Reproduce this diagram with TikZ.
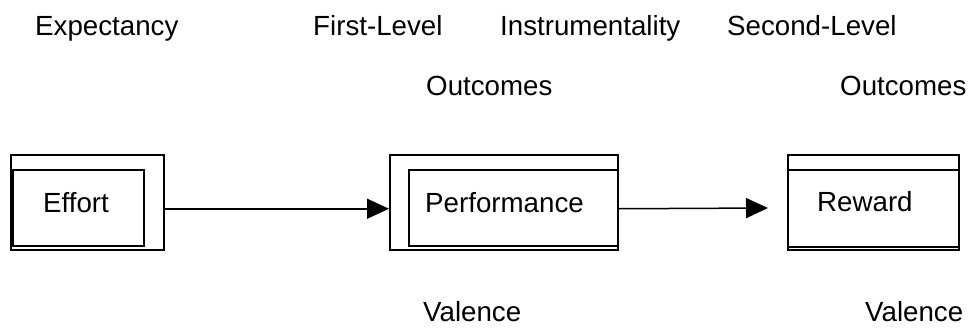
\documentclass[tikz,border=0pt]{standalone}
\usepackage{fontspec}
\setmainfont{Liberation Sans}
\usetikzlibrary{arrows.meta}
\begin{document}
\begin{tikzpicture}[x=1pt,y=-1pt,
  boxframe/.style={draw, line width=1.5pt, inner sep=0pt, anchor=north west},
  lbl/.style={inner sep=0pt, anchor=base west, font=\fontsize{27.7}{33}\selectfont},
  flow/.style={line width=1.5pt, -{Triangle[length=22pt,width=20pt]}}]
\useasboundingbox (0,0) rectangle (968,329);
% boxes
\node[boxframe, minimum width=153pt, minimum height=95pt] (eo) at (10,154) {};
\node[boxframe, minimum width=131pt, minimum height=76pt] (ei) at (12,169) {};
\node[boxframe, minimum width=228pt, minimum height=95pt] (po) at (389,154) {};
\node[boxframe, minimum width=209pt, minimum height=76pt] (pi) at (408,169) {};
\node[boxframe, minimum width=171pt, minimum height=95pt] (ro) at (787,154) {};
\node[boxframe, minimum width=171pt, minimum height=77pt] (ri) at (787,169) {};
% box texts
\node[lbl] (teffort) at (43,212) {Effort};
\node[lbl] (tperf) at (425,212) {Performance};
\node[lbl] (treward) at (817,211) {Reward};
% headings
\node[lbl] (hexp) at (35,36) {Expectancy};
\node[lbl] (hfirst) at (313,36) {First-Level};
\node[lbl] (hinst) at (500,36) {Instrumentality};
\node[lbl] (hsecond) at (727,36) {Second-Level};
\node[lbl] (hout1) at (426,95) {Outcomes};
\node[lbl] (hout2) at (840,95) {Outcomes};
\node[lbl] (val1) at (423,321) {Valence};
\node[lbl] (val2) at (865,321) {Valence};
% arrows
\coordinate (a2end) at (768,208);
\draw[flow] ([yshift=-6.5pt]eo.east) -- ([yshift=-6.5pt]po.west);
\draw[flow] ([yshift=-6.5pt]po.east) -- (a2end);
\end{tikzpicture}
\end{document}
